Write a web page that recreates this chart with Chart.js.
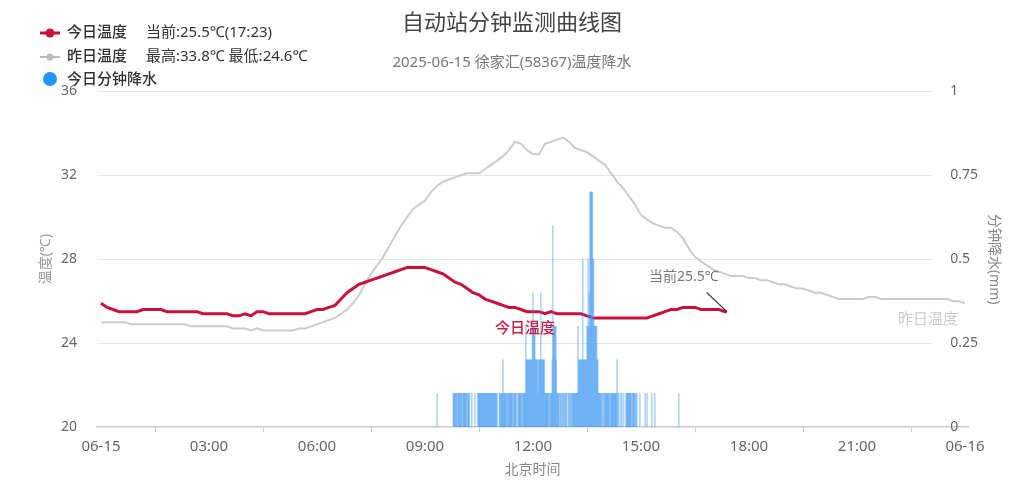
<!DOCTYPE html>
<html>
<head>
<meta charset="utf-8">
<title>自动站分钟监测曲线图</title>
<script src="https://cdn.jsdelivr.net/npm/chart.js@4.4.1/dist/chart.umd.min.js"></script>
<style>
  html, body { margin: 0; padding: 0; background: #fff; }
  #wrap { width: 1024px; height: 498px; position: relative; }
</style>
</head>
<body>
<div id="wrap"><canvas id="chart"></canvas></div>
<script>
const FONT = '"Noto Sans", "Noto Sans CJK SC", sans-serif';
Chart.defaults.font.family = FONT;

const chartTitle = '自动站分钟监测曲线图';
const chartSubtitle = '2025-06-15 徐家汇(58367)温度降水';

const xTickHours = [0, 3, 6, 9, 12, 15, 18, 21, 24];
const xTickLabels = ['06-15', '03:00', '06:00', '09:00', '12:00', '15:00', '18:00', '21:00', '06-16'];

// today, one reading every 10 min, 00:00 .. 17:20
const todayTemp = [
  25.9, 25.7, 25.6, 25.5, 25.5, 25.5,
  25.5, 25.6, 25.6, 25.6, 25.6, 25.5,
  25.5, 25.5, 25.5, 25.5, 25.5, 25.4,
  25.4, 25.4, 25.4, 25.4, 25.3, 25.3,
  25.4, 25.3, 25.5, 25.5, 25.4, 25.4,
  25.4, 25.4, 25.4, 25.4, 25.4, 25.5,
  25.6, 25.6, 25.7, 25.8, 26.1, 26.4,
  26.6, 26.8, 26.9, 27.0, 27.1, 27.2,
  27.3, 27.4, 27.5, 27.6, 27.6, 27.6,
  27.6, 27.5, 27.4, 27.3, 27.1, 26.9,
  26.8, 26.6, 26.4, 26.3, 26.1, 26.0,
  25.9, 25.8, 25.7, 25.7, 25.6, 25.5,
  25.5, 25.5, 25.4, 25.5, 25.4, 25.4,
  25.4, 25.4, 25.4, 25.3, 25.2, 25.2,
  25.2, 25.2, 25.2, 25.2, 25.2, 25.2,
  25.2, 25.2, 25.3, 25.4, 25.5, 25.6,
  25.6, 25.7, 25.7, 25.7, 25.6, 25.6,
  25.6, 25.6, 25.5
];
const nowTime = '17:23';
const nowTemp = 25.5;

// yesterday, every 10 min, 00:00 .. 24:00
const yesterdayTemp = [
  25.0, 25.0, 25.0, 25.0, 25.0, 24.9,
  24.9, 24.9, 24.9, 24.9, 24.9, 24.9,
  24.9, 24.9, 24.9, 24.8, 24.8, 24.8,
  24.8, 24.8, 24.8, 24.8, 24.7, 24.7,
  24.7, 24.6, 24.7, 24.6, 24.6, 24.6,
  24.6, 24.6, 24.6, 24.7, 24.7, 24.8,
  24.9, 25.0, 25.1, 25.2, 25.4, 25.6,
  25.9, 26.3, 26.8, 27.3, 27.7, 28.1,
  28.6, 29.1, 29.6, 30.0, 30.4, 30.6,
  30.8, 31.2, 31.5, 31.7, 31.8, 31.9,
  32.0, 32.1, 32.1, 32.1, 32.3, 32.5,
  32.7, 32.9, 33.2, 33.6, 33.5, 33.2,
  33.0, 33.0, 33.5, 33.6, 33.7, 33.8,
  33.6, 33.3, 33.2, 33.1, 32.9, 32.7,
  32.5, 32.1, 31.7, 31.4, 31.0, 30.6,
  30.1, 29.9, 29.7, 29.6, 29.5, 29.5,
  29.3, 29.0, 28.5, 28.1, 27.9, 27.7,
  27.5, 27.4, 27.3, 27.2, 27.2, 27.2,
  27.1, 27.1, 27.0, 27.0, 26.9, 26.8,
  26.8, 26.7, 26.6, 26.6, 26.5, 26.4,
  26.4, 26.3, 26.2, 26.1, 26.1, 26.1,
  26.1, 26.1, 26.2, 26.2, 26.1, 26.1,
  26.1, 26.1, 26.1, 26.1, 26.1, 26.1,
  26.1, 26.1, 26.1, 26.1, 26.0, 26.0,
  25.9
];

// rain per minute (mm), starting 09:20
const rainStart = '09:20';
const rainMm = [
  0.1, 0, 0, 0, 0, 0, 0, 0, 0, 0,
  0, 0, 0, 0, 0, 0, 0, 0, 0, 0,
  0, 0, 0, 0, 0, 0, 0, 0.1, 0.1, 0.1,
  0.1, 0.1, 0.1, 0.1, 0, 0.1, 0.1, 0.1, 0.1, 0.1,
  0.1, 0.1, 0, 0.1, 0.1, 0.1, 0.1, 0.1, 0.1, 0.1,
  0, 0.1, 0.1, 0.1, 0.1, 0, 0, 0, 0.1, 0,
  0, 0, 0, 0.1, 0, 0, 0, 0, 0.1, 0.1,
  0.1, 0.1, 0.1, 0.1, 0.1, 0.1, 0.1, 0.1, 0.1, 0.1,
  0.1, 0.1, 0.1, 0.1, 0.1, 0.1, 0.1, 0.1, 0.1, 0.1,
  0.1, 0.1, 0.1, 0.1, 0.1, 0.1, 0.1, 0.1, 0.1, 0.1,
  0.1, 0, 0, 0, 0.1, 0.1, 0.1, 0.1, 0.1, 0.1,
  0.2, 0.1, 0.1, 0.1, 0.1, 0.1, 0.1, 0, 0.1, 0.1,
  0.1, 0.1, 0.1, 0.1, 0.1, 0.1, 0.1, 0, 0.1, 0.1,
  0.1, 0.1, 0.1, 0, 0, 0.1, 0.1, 0.1, 0.1, 0.1,
  0.1, 0.1, 0, 0.1, 0.1, 0.1, 0.1, 0.1, 0.3, 0.2,
  0.2, 0.2, 0.2, 0.2, 0.2, 0.2, 0.2, 0.2, 0.2, 0.3,
  0.4, 0.3, 0.3, 0.3, 0.2, 0.2, 0.2, 0.2, 0.1, 0.2,
  0.2, 0.2, 0.2, 0.4, 0.2, 0.2, 0.2, 0.2, 0.2, 0.2,
  0.1, 0.1, 0.1, 0.1, 0.1, 0.1, 0.1, 0, 0.1, 0.1,
  0.1, 0.1, 0.2, 0.6, 0.3, 0.3, 0.3, 0.3, 0.3, 0.2,
  0.1, 0.1, 0.1, 0.1, 0, 0.1, 0.1, 0, 0.1, 0.1,
  0, 0.1, 0.1, 0, 0.1, 0.1, 0.1, 0, 0, 0.1,
  0.1, 0, 0.1, 0.1, 0, 0.1, 0.1, 0.1, 0.1, 0.1,
  0.1, 0.1, 0.1, 0.1, 0.1, 0.3, 0.2, 0.2, 0.2, 0.2,
  0.2, 0.2, 0.2, 0.5, 0.2, 0.2, 0.2, 0.2, 0.2, 0.2,
  0.3, 0.3, 0.5, 0.3, 0.4, 0.7, 0.7, 0.7, 0.7, 0.7,
  0.5, 0.5, 0.3, 0.3, 0.3, 0.3, 0.3, 0.2, 0.2, 0.1,
  0.1, 0.1, 0.1, 0.1, 0.1, 0, 0.1, 0.1, 0, 0.1,
  0.1, 0.1, 0.1, 0.1, 0.1, 0.1, 0.1, 0.1, 0, 0.1,
  0.1, 0.1, 0.1, 0.1, 0.1, 0.1, 0.1, 0.1, 0.1, 0.1,
  0.2, 0.1, 0, 0.1, 0, 0, 0.1, 0, 0.1, 0,
  0, 0.1, 0, 0, 0, 0.1, 0.1, 0.1, 0.1, 0.1,
  0.1, 0.1, 0.1, 0.1, 0.1, 0, 0.1, 0.1, 0.1, 0.1,
  0.1, 0, 0.1, 0.1, 0, 0, 0, 0, 0.1, 0,
  0, 0, 0, 0, 0, 0, 0, 0.1, 0, 0,
  0.1, 0, 0, 0, 0, 0, 0, 0, 0.1, 0,
  0, 0, 0, 0.1, 0, 0, 0, 0, 0, 0,
  0, 0, 0, 0, 0, 0, 0, 0, 0, 0,
  0, 0, 0, 0, 0, 0, 0, 0, 0, 0,
  0, 0, 0, 0, 0, 0, 0, 0, 0, 0,
  0, 0, 0, 0.1
];

const TODAY_RED = 'rgb(200, 18, 60)';
const YEST_GREY = 'rgb(204, 204, 204)';
const RAIN_BLUE = 'rgba(60, 150, 240, 0.4)';

const toHours = s => {
  const [h, m] = s.split(':').map(Number);
  return h + m / 60;
};

const todayPoints = todayTemp.map((t, i) => ({x: i / 6, y: t}));
todayPoints.push({x: toHours(nowTime), y: nowTemp});
const yesterdayPoints = yesterdayTemp.map((t, i) => ({x: i / 6, y: t}));
const rainPoints = [];
rainMm.forEach((v, i) => {
  if (v > 0) rainPoints.push({x: toHours(rainStart) + i / 60, y: v});
});

const yMax = Math.max(...yesterdayTemp).toFixed(1);
const yMin = Math.min(...yesterdayTemp).toFixed(1);

// horizontal grid (stops short of the right labels), in-chart labels and the legend
const overlayPlugin = {
  id: 'overlay',
  beforeDatasetsDraw(chart) {
    const {ctx, chartArea, scales: {y}} = chart;
    ctx.save();
    ctx.strokeStyle = '#e6e6e6';
    ctx.lineWidth = 1;
    y.ticks.forEach(t => {
      if (t.value === y.min) return;
      const py = Math.round(y.getPixelForValue(t.value)) + 0.5;
      ctx.beginPath();
      ctx.moveTo(chartArea.left, py);
      ctx.lineTo(chartArea.right - 36, py);
      ctx.stroke();
    });
    ctx.restore();
  },
  afterDatasetsDraw(chart) {
    const {ctx, scales: {x, y}} = chart;
    ctx.save();
    ctx.textAlign = 'center';
    ctx.textBaseline = 'middle';

    // current value with leader line
    const last = todayPoints[todayPoints.length - 1];
    const lx = x.getPixelForValue(last.x), ly = y.getPixelForValue(last.y);
    ctx.strokeStyle = '#333';
    ctx.lineWidth = 1.3;
    ctx.beginPath();
    ctx.moveTo(lx, ly);
    ctx.lineTo(lx - 20, ly - 19);
    ctx.stroke();
    ctx.fillStyle = '#777';
    ctx.font = '14px ' + FONT;
    ctx.fillText('当前' + nowTemp + '℃', lx - 43, ly - 35);

    // series names
    const mid = todayPoints[71];
    ctx.fillStyle = 'rgb(200, 30, 70)';
    ctx.font = '500 15px ' + FONT;
    ctx.fillText('今日温度', x.getPixelForValue(mid.x) - 2, y.getPixelForValue(mid.y) + 17);

    const end = yesterdayPoints[yesterdayPoints.length - 1];
    ctx.fillStyle = '#cccccc';
    ctx.font = '15px ' + FONT;
    ctx.fillText('昨日温度', x.getPixelForValue(end.x) - 37, y.getPixelForValue(end.y) + 16);
    ctx.restore();
  },
  afterDraw(chart) {
    const ctx = chart.ctx;
    ctx.save();
    ctx.textBaseline = 'middle';
    ctx.textAlign = 'left';

    // row 1
    ctx.strokeStyle = TODAY_RED;
    ctx.lineWidth = 3;
    ctx.beginPath(); ctx.moveTo(40, 33); ctx.lineTo(60, 33); ctx.stroke();
    ctx.fillStyle = TODAY_RED;
    ctx.beginPath(); ctx.arc(50, 33, 4.5, 0, Math.PI * 2); ctx.fill();
    ctx.fillStyle = '#333';
    ctx.font = '500 15px ' + FONT;
    ctx.fillText('今日温度', 67, 33);
    ctx.font = '15px ' + FONT;
    ctx.fillText('当前:' + nowTemp + '℃(' + nowTime + ')', 146, 33);

    // row 2
    ctx.strokeStyle = '#bbbbbb';
    ctx.lineWidth = 2;
    ctx.beginPath(); ctx.moveTo(40, 57); ctx.lineTo(60, 57); ctx.stroke();
    ctx.fillStyle = '#bbbbbb';
    ctx.beginPath(); ctx.arc(50, 57, 3.5, 0, Math.PI * 2); ctx.fill();
    ctx.fillStyle = '#333';
    ctx.font = '500 15px ' + FONT;
    ctx.fillText('昨日温度', 67, 57);
    ctx.font = '15px ' + FONT;
    ctx.fillText('最高:' + yMax + '℃ 最低:' + yMin + '℃', 146, 57);

    // row 3
    ctx.fillStyle = 'rgb(33, 150, 243)';
    ctx.beginPath(); ctx.arc(50, 79, 7, 0, Math.PI * 2); ctx.fill();
    ctx.fillStyle = '#333';
    ctx.font = '500 15px ' + FONT;
    ctx.fillText('今日分钟降水', 67, 80);
    ctx.restore();
  }
};

const ctx = document.getElementById('chart').getContext('2d');

const myChart = new Chart(ctx, {
  type: 'line',
  data: {
    datasets: [
      {
        label: '今日温度',
        data: todayPoints,
        borderColor: TODAY_RED,
        backgroundColor: TODAY_RED,
        borderWidth: 3,
        pointRadius: 0,
        tension: 0,
        yAxisID: 'y',
        order: 2
      },
      {
        label: '昨日温度',
        data: yesterdayPoints,
        borderColor: YEST_GREY,
        backgroundColor: YEST_GREY,
        borderWidth: 2,
        pointRadius: 0,
        tension: 0,
        yAxisID: 'y',
        order: 3
      },
      {
        type: 'bar',
        label: '今日分钟降水',
        data: rainPoints,
        backgroundColor: RAIN_BLUE,
        borderWidth: 0,
        barThickness: 1,
        yAxisID: 'yRain',
        order: 1
      }
    ]
  },
  options: {
    responsive: true,
    maintainAspectRatio: false,
    animation: false,
    layout: {padding: 0},
    plugins: {
      legend: {display: false},
      tooltip: {enabled: false},
      title: {
        display: true,
        text: chartTitle,
        color: '#444',
        font: {size: 22, weight: 'normal'},
        padding: {top: 11, bottom: 0}
      },
      subtitle: {
        display: true,
        text: chartSubtitle,
        color: '#777',
        font: {size: 15},
        padding: {top: 16, bottom: 20}
      }
    },
    scales: {
      x: {
        type: 'linear',
        min: -4 / 36,
        max: 24 + 3 / 36,
        offset: false,
        afterBuildTicks: scale => {
          scale.ticks = xTickHours.map(v => ({value: v}));
        },
        ticks: {
          callback: value => xTickLabels[xTickHours.indexOf(value)],
          color: '#666',
          font: {size: 15},
          padding: 6,
          maxRotation: 0,
          autoSkip: false
        },
        grid: {drawOnChartArea: false, drawTicks: true, tickLength: 5, color: '#cccccc'},
        border: {color: '#cccccc', width: 1.5},
        title: {
          display: true,
          text: '北京时间',
          color: '#888',
          font: {size: 14},
          padding: {top: 0, bottom: 19.6}
        },
        afterFit: scale => { scale.height = 71; }
      },
      y: {
        position: 'left',
        min: 20,
        max: 36,
        ticks: {stepSize: 4, color: '#666', font: {size: 14}, padding: 20},
        grid: {display: false, drawTicks: false},
        border: {display: false},
        title: {
          display: true,
          text: '温度(℃)',
          color: '#999',
          font: {size: 14},
          padding: {top: 38, bottom: 0}
        },
        afterFit: scale => { scale.width = 97; }
      },
      yRain: {
        position: 'right',
        min: 0,
        max: 1,
        ticks: {
          stepSize: 0.25,
          callback: value => String(value),
          color: '#666',
          font: {size: 14},
          mirror: true,
          crossAlign: 'far',
          padding: 10
        },
        grid: {display: false, drawTicks: false},
        border: {display: false},
        title: {
          display: true,
          text: '分钟降水(mm)',
          color: '#888',
          font: {size: 14},
          padding: {top: 22, bottom: 0}
        },
        afterFit: scale => { scale.width = 56; }
      }
    }
  },
  plugins: [overlayPlugin]
});
</script>
</body>
</html>
